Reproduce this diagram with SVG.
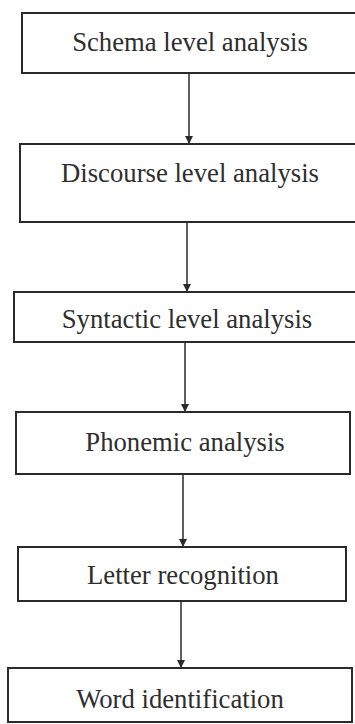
<svg xmlns="http://www.w3.org/2000/svg" width="355" height="724" viewBox="0 0 355 724">
<style>
.box{fill:none;stroke:#2a2a2a;stroke-width:2}
.lbl{font-family:"Liberation Serif","Times New Roman",serif;font-size:26.7px;fill:#2e2e2e;text-anchor:middle}
.conn{stroke:#2a2a2a;stroke-width:1.5;fill:none}
</style>
<defs>
<marker id="arr" viewBox="0 0 10 10" refX="10" refY="5" markerWidth="8" markerHeight="8" markerUnits="userSpaceOnUse" orient="auto">
<path d="M0,0 L10,5 L0,10 Z" fill="#2a2a2a"/>
</marker>
</defs>
<rect width="355" height="724" fill="#ffffff"/>
<g id="connectors">
<line class="conn" x1="189" y1="73" x2="189" y2="144" marker-end="url(#arr)"/>
<line class="conn" x1="187" y1="222" x2="187" y2="292" marker-end="url(#arr)"/>
<line class="conn" x1="185" y1="342" x2="185" y2="412" marker-end="url(#arr)"/>
<line class="conn" x1="183" y1="474" x2="183" y2="547" marker-end="url(#arr)"/>
<line class="conn" x1="181" y1="601" x2="181" y2="668" marker-end="url(#arr)"/>
</g>
<g id="schema">
<rect class="box" x="22" y="13" width="345" height="60"/>
<text class="lbl" x="190" y="51">Schema level analysis</text>
</g>
<g id="discourse">
<rect class="box" x="20" y="144" width="347" height="78"/>
<text class="lbl" x="190" y="182">Discourse level analysis</text>
</g>
<g id="syntactic">
<rect class="box" x="14" y="292" width="353" height="50"/>
<text class="lbl" x="187" y="328">Syntactic level analysis</text>
</g>
<g id="phonemic">
<rect class="box" x="16" y="412" width="334" height="62"/>
<text class="lbl" x="185" y="451">Phonemic analysis</text>
</g>
<g id="letter">
<rect class="box" x="18" y="547" width="328" height="54"/>
<text class="lbl" x="183" y="584">Letter recognition</text>
</g>
<g id="word">
<rect class="box" x="8" y="668" width="344" height="54"/>
<text class="lbl" x="180" y="708">Word identification</text>
</g>
</svg>
